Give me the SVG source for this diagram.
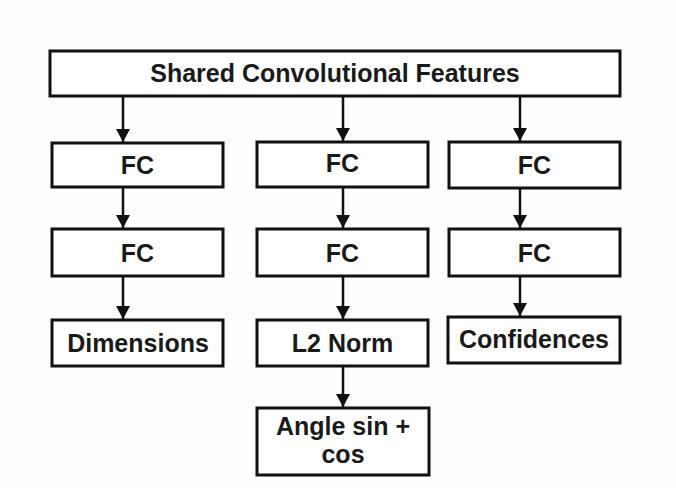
<svg xmlns="http://www.w3.org/2000/svg" width="676" height="488" viewBox="0 0 676 488">
<style>
.box{fill:#ffffff;stroke:#111111;stroke-width:3}
.t{font-family:"Liberation Sans",Arial,sans-serif;font-weight:bold;font-size:25px;fill:#1a1a1a;text-anchor:middle}
.c{stroke:#111111;stroke-width:2.5;fill:none;marker-end:url(#ah)}
</style>
<defs>
<marker id="ah" markerUnits="userSpaceOnUse" markerWidth="14" markerHeight="14" viewBox="0 0 14 14" refX="13" refY="7" orient="auto">
<path d="M0,0 L13,7 L0,14 Z" fill="#111111"/>
</marker>
</defs>
<rect width="676" height="488" fill="#fcfdfe"/>
<g id="shared"><rect class="box" x="50" y="51" width="570" height="45"/><text class="t" x="335" y="82">Shared Convolutional Features</text></g>
<g id="fc1a"><rect class="box" x="52" y="143" width="171" height="44"/><text class="t" x="137.5" y="174">FC</text></g>
<g id="fc2a"><rect class="box" x="257" y="142" width="171" height="45"/><text class="t" x="342.5" y="172">FC</text></g>
<g id="fc3a"><rect class="box" x="449" y="142" width="171" height="46"/><text class="t" x="534.5" y="174">FC</text></g>
<g id="fc1b"><rect class="box" x="52" y="229" width="171" height="47"/><text class="t" x="137.5" y="262">FC</text></g>
<g id="fc2b"><rect class="box" x="257" y="229" width="171" height="47"/><text class="t" x="342.5" y="262">FC</text></g>
<g id="fc3b"><rect class="box" x="449" y="229" width="171" height="47"/><text class="t" x="534.5" y="262">FC</text></g>
<g id="dims"><rect class="box" x="52" y="320" width="171" height="46"/><text class="t" x="138" y="352">Dimensions</text></g>
<g id="l2"><rect class="box" x="257" y="320" width="171" height="46"/><text class="t" x="342.5" y="352">L2 Norm</text></g>
<g id="conf"><rect class="box" x="448" y="317" width="172" height="46"/><text class="t" x="534" y="348">Confidences</text></g>
<g id="angle"><rect class="box" x="257" y="408" width="172" height="67"/><text class="t" x="343" y="435">Angle sin +</text><text class="t" x="343" y="463">cos</text></g>
<g id="connectors">
<line class="c" x1="123" y1="96" x2="123" y2="142"/>
<line class="c" x1="343" y1="96" x2="343" y2="141"/>
<line class="c" x1="520" y1="96" x2="520" y2="141"/>
<line class="c" x1="123" y1="187" x2="123" y2="228"/>
<line class="c" x1="343" y1="187" x2="343" y2="228"/>
<line class="c" x1="520" y1="188" x2="520" y2="228"/>
<line class="c" x1="123" y1="276" x2="123" y2="319"/>
<line class="c" x1="343" y1="276" x2="343" y2="319"/>
<line class="c" x1="520" y1="276" x2="520" y2="316"/>
<line class="c" x1="343" y1="366" x2="343" y2="407"/>
</g>
</svg>
